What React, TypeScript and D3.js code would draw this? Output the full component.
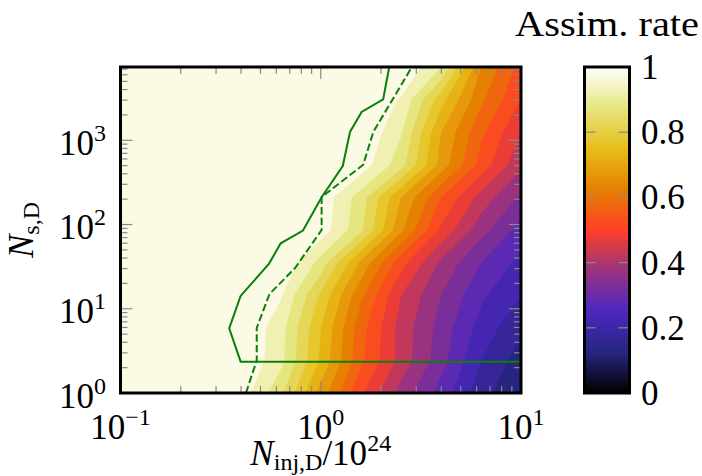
import React from 'react';
import * as d3 from 'd3';

// ---- data ----
const xGrid = [0.1, 0.1585, 0.2512, 0.3981, 0.631, 1.0, 1.585, 2.512, 3.981, 6.31, 10];
const yGrid = [1, 2.438, 5.943, 14.49, 35.32, 86.1, 209.9, 511.7, 1247, 3041, 7413];
// assimilation rate, one row per yGrid value (bottom to top), one column per xGrid value
const rateRow0 = [1, 1, 1, 0.98, 0.86, 0.68, 0.51, 0.38, 0.28, 0.17, 0.1];
const rateRow1 = [1, 1, 1, 1, 0.915, 0.74, 0.56, 0.43, 0.32, 0.2, 0.125];
const rateRow2 = [1, 1, 1, 1, 0.92, 0.75, 0.57, 0.43, 0.33, 0.23, 0.16];
const rateRow3 = [1, 1, 1, 1, 0.955, 0.79, 0.61, 0.45, 0.35, 0.26, 0.2];
const rateRow4 = [1, 1, 1, 1, 1, 0.88, 0.69, 0.52, 0.39, 0.3, 0.235];
const rateRow5 = [1, 1, 1, 1, 1, 0.98, 0.86, 0.66, 0.49, 0.37, 0.28];
const rateRow6 = [1, 1, 1, 1, 1, 0.985, 0.875, 0.7, 0.55, 0.43, 0.34];
const rateRow7 = [1, 1, 1, 1, 1, 1, 0.98, 0.87, 0.68, 0.53, 0.41];
const rateRow8 = [1, 1, 1, 1, 1, 1, 1, 0.905, 0.7, 0.56, 0.45];
const rateRow9 = [1, 1, 1, 1, 1, 1, 1, 0.945, 0.77, 0.61, 0.5];
const rateRow10 = [1, 1, 1, 1, 1, 1, 1, 1, 0.9, 0.65, 0.53];
const rateRows = [rateRow0, rateRow1, rateRow2, rateRow3, rateRow4, rateRow5, rateRow6, rateRow7, rateRow8, rateRow9, rateRow10];
const levels = [0, 0.05, 0.1, 0.15, 0.2, 0.25, 0.3, 0.35, 0.4, 0.45, 0.5, 0.55, 0.6, 0.65, 0.7, 0.75, 0.8, 0.85, 0.9, 0.95];
const levelStep = 0.05;

const solidX = [10, 0.398, 0.349, 0.398, 0.552, 0.631, 0.815, 1.012, 1.288, 1.4, 1.6, 2.05, 2.198];
const solidY = [2.355, 2.355, 5.86, 14.2, 34.4, 59.8, 84.9, 212, 495, 1256, 2168, 3069, 7413];
const dashedX = [0.423, 0.479, 0.479, 0.555, 0.745, 1.01, 1.01, 1.63, 1.83, 2.85];
const dashedY = [1, 2.44, 5.94, 15.0, 30.5, 86.1, 212, 513, 1256, 7413];

const xTicks = [0.1, 1, 10];
const xTickExps = ['\u22121', '0', '1'];
const yTicks = [1, 10, 100, 1000];
const yTickExps = ['0', '1', '2', '3'];
const cbTicks = [0, 0.2, 0.4, 0.6, 0.8, 1];
const cbTickLabels = ['0', '0.2', '0.4', '0.6', '0.8', '1'];
const title = 'Assim. rate';

// ---- layout ----
const W = 702, H = 476;
const L = 120.5, R = 521, T = 67, B = 393;
const CBL = 584.5, CBR = 629.5;
const FONT = "'Liberation Serif', 'DejaVu Serif', serif";
const FS = 35, SFS = 24;
const TICK_COLOR = '#8a8a8a';

// CMRmap colormap
const cmBp = [0, 0.125, 0.25, 0.375, 0.5, 0.625, 0.75, 0.875, 1];
const cmR = [0, 0.15, 0.3, 0.6, 1, 0.9, 0.9, 0.9, 1];
const cmG = [0, 0.15, 0.15, 0.2, 0.25, 0.5, 0.75, 0.9, 1];
const cmB = [0, 0.5, 0.75, 0.5, 0.15, 0, 0.1, 0.5, 1];
const sR = d3.scaleLinear().domain(cmBp).range(cmR).clamp(true);
const sG = d3.scaleLinear().domain(cmBp).range(cmG).clamp(true);
const sB = d3.scaleLinear().domain(cmBp).range(cmB).clamp(true);
function cmr(t: number): string {
  return d3.rgb(Math.round(sR(t) * 255), Math.round(sG(t) * 255), Math.round(sB(t) * 255)).formatHex();
}

const xScale = d3.scaleLog().domain([0.1, 10]).range([L, R]);
const yScale = d3.scaleLog().domain([1, 7413]).range([B, T]);
const cbScale = d3.scaleLinear().domain([0, 1]).range([B, T]);

const lx = xGrid.map(Math.log10);
const ly = yGrid.map(Math.log10);
function idxToLog(c: number, arr: number[]): number {
  const i = c - 0.5;
  const lo = Math.max(0, Math.min(arr.length - 2, Math.floor(i)));
  return arr[lo] + (i - lo) * (arr[lo + 1] - arr[lo]);
}

export default function App() {
  const n = xGrid.length, m = yGrid.length;
  const values = rateRows.flat();
  const contours = d3.contours().size([n, m]).thresholds(levels)(values);
  const proj = d3.geoTransform({
    point: function (this: any, x: number, y: number) {
      this.stream.point(xScale(Math.pow(10, idxToLog(x, lx))), yScale(Math.pow(10, idxToLog(y, ly))));
    },
  });
  const path = d3.geoPath(proj);
  const lineGen = d3.line<[number, number]>().x((d) => xScale(d[0])).y((d) => yScale(d[1]));
  const solidPath = lineGen(solidX.map((x, i) => [x, solidY[i]] as [number, number]));
  const dashedPath = lineGen(dashedX.map((x, i) => [x, dashedY[i]] as [number, number]));

  const xAll = xScale.ticks();
  const yAll = yScale.ticks().filter((v) => v <= 7413);
  const isMajor = (v: number) => Math.abs(Math.log10(v) - Math.round(Math.log10(v))) < 1e-9;

  const gradStops = d3.range(0, 1.0001, 0.02);

  return (
    <svg width={W} height={H} style={{ position: 'fixed', left: 0, top: 0, background: '#fff' }} fontFamily={FONT}>
      <defs>
        <clipPath id="plotclip">
          <rect x={L} y={T} width={R - L} height={B - T} />
        </clipPath>
        <linearGradient id="cbgrad" x1="0" y1="1" x2="0" y2="0">
          {gradStops.map((t, i) => (
            <stop key={i} offset={t} stopColor={cmr(t)} />
          ))}
        </linearGradient>
      </defs>
      <rect x={0} y={0} width={W} height={H} fill="#fff" />
      <g clipPath="url(#plotclip)">
        {contours.map((c, i) => (
          <path key={i} d={path(c as any) || ''} fill={cmr(c.value + levelStep / 2)} stroke={cmr(c.value + levelStep / 2)} strokeWidth={0.5} fillRule="evenodd" />
        ))}
        <path d={solidPath || ''} fill="none" stroke="#0a800a" strokeWidth={2} strokeLinejoin="miter" />
        <path d={dashedPath || ''} fill="none" stroke="#0a800a" strokeWidth={2} strokeDasharray="7.4,3.2" />
      </g>
      {/* ticks */}
      <g stroke={TICK_COLOR} strokeWidth={1.2}>
        {xAll.map((v, i) => {
          const x = xScale(v);
          const len = isMajor(v) ? 12 : 7;
          return (
            <g key={'xt' + i}>
              <line x1={x} x2={x} y1={B} y2={B - len} />
              <line x1={x} x2={x} y1={T} y2={T + len} />
            </g>
          );
        })}
        {yAll.map((v, i) => {
          const y = yScale(v);
          const len = isMajor(v) ? 12 : 7;
          return (
            <g key={'yt' + i}>
              <line x1={L} x2={L + len} y1={y} y2={y} />
              <line x1={R} x2={R - len} y1={y} y2={y} />
            </g>
          );
        })}
      </g>
      <rect x={L} y={T} width={R - L} height={B - T} fill="none" stroke="#000" strokeWidth={3} />
      {/* x tick labels */}
      {xTicks.map((v, i) => (
        <text key={'xl' + i} x={xScale(v)} y={439} textAnchor="middle" fontSize={FS} fill="#000">
          10<tspan fontSize={SFS} dy={-14}>{xTickExps[i]}</tspan>
        </text>
      ))}
      {yTicks.map((v, i) => (
        <text key={'yl' + i} x={106} y={yScale(v) + 14.5} textAnchor="end" fontSize={FS} fill="#000">
          10<tspan fontSize={SFS} dy={-14}>{yTickExps[i]}</tspan>
        </text>
      ))}
      {/* axis labels */}
      <text x={(L + R) / 2} y={465} textAnchor="middle" fontSize={FS} fill="#000">
        <tspan fontStyle="italic">N</tspan>
        <tspan fontSize={SFS} dy={5}>inj,D</tspan>
        <tspan dy={-5}>/10</tspan>
        <tspan fontSize={SFS} dy={-14}>24</tspan>
      </text>
      <text transform={`translate(33, ${(T + B) / 2}) rotate(-90)`} textAnchor="middle" fontSize={FS} fill="#000">
        <tspan fontStyle="italic">N</tspan>
        <tspan fontSize={SFS} dy={6}>s,D</tspan>
      </text>
      {/* colorbar */}
      <rect x={CBL} y={T} width={CBR - CBL} height={B - T} fill="url(#cbgrad)" />
      <g stroke={TICK_COLOR} strokeWidth={1.2}>
        {cbTicks.map((v, i) => (
          <g key={'cbt' + i}>
            <line x1={CBL} x2={CBL + 11} y1={cbScale(v)} y2={cbScale(v)} />
            <line x1={CBR} x2={CBR - 11} y1={cbScale(v)} y2={cbScale(v)} />
          </g>
        ))}
      </g>
      <rect x={CBL} y={T} width={CBR - CBL} height={B - T} fill="none" stroke="#000" strokeWidth={3} />
      {cbTicks.map((v, i) => (
        <text key={'cbl' + i} x={641} y={cbScale(v) + 12} fontSize={FS} fill="#000">
          {cbTickLabels[i]}
        </text>
      ))}
      <text x={(CBL + CBR) / 2} y={36} textAnchor="middle" fontSize={FS} fill="#000" textLength={184} lengthAdjust="spacingAndGlyphs">
        {title}
      </text>
    </svg>
  );
}
